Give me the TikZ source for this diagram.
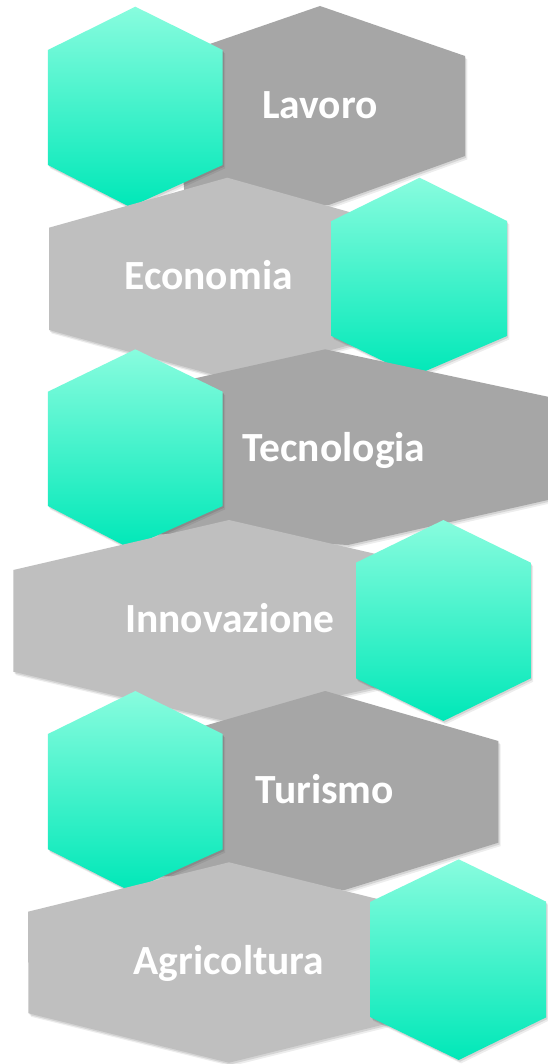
\documentclass[tikz,border=0pt]{standalone}
\usepackage{fontspec}
\setmainfont{Carlito}
\definecolor{dgray}{HTML}{A6A6A6}
\definecolor{lgray}{HTML}{BFBFBF}
\definecolor{gtop}{HTML}{88FCDE}
\definecolor{gmid}{HTML}{55F4CF}
\definecolor{gbot}{HTML}{00E8B8}
\tikzset{
  shd/.style={
    preaction={fill=black, opacity=0.10, transform canvas={xshift=1.2pt, yshift=-1.8pt}},
    preaction={fill=black, opacity=0.07, transform canvas={xshift=2.4pt, yshift=-3.4pt}}},
  darkhex/.style={shd, fill=dgray},
  lighthex/.style={shd, fill=lgray},
  greenhex/.style={shd, top color=gtop, middle color=gmid, bottom color=gbot},
  lbl/.style={anchor=base, text=white, inner sep=0pt,
    font=\fontsize{41.5}{41.5}\selectfont\bfseries}
}
\begin{document}
\begin{tikzpicture}[x=1pt, y=-1pt]
\clip (0,0) rectangle (548,1064);
\fill[white] (0,0) rectangle (548,1064);
% Row 1
\path[darkhex] (320,6) -- (465,56) -- (465,156) -- (328.7,205) -- (185,203) -- (175,56) -- cycle;
\path[greenhex] (135.3,6.7) -- (222.7,50) -- (222.7,165) -- (130,207) -- (47.9,165) -- (47.9,50) -- cycle;
% Row 2
\path[lighthex] (227.3,177.7) -- (405,227.7) -- (405,330) -- (227,378.3) -- (49,330) -- (49,227.7) -- cycle;
\path[greenhex] (419.6,177.7) -- (507,221) -- (507,336) -- (414,376) -- (331.5,336) -- (331.5,221) -- cycle;
% Row 3
\path[darkhex] (325.2,349.3) -- (560,399.3) -- (560,497.3) -- (347.9,545) -- (100,530) -- (100,399.5) -- cycle;
\path[greenhex] (135.3,349.3) -- (222.7,391.7) -- (222.7,506) -- (129,548) -- (47.9,506) -- (47.9,391.7) -- cycle;
% Row 4
\path[lighthex] (229,520) -- (445,570) -- (445,672) -- (225,721) -- (13.3,671.7) -- (13.3,570) -- cycle;
\path[greenhex] (443.4,520) -- (530.8,562.7) -- (530.8,678.3) -- (443.4,721) -- (356,678.3) -- (356,562.7) -- cycle;
% Row 5
\path[darkhex] (325.2,691) -- (498.3,741) -- (498.3,842.7) -- (344.4,890) -- (152,875) -- (152,741) -- cycle;
\path[greenhex] (135.3,691) -- (222.7,734) -- (222.7,849.3) -- (130,891) -- (47.9,849.3) -- (47.9,734) -- cycle;
% Row 6
\path[lighthex] (229,862.3) -- (429,911.7) -- (429,1013.3) -- (229,1062.7) -- (28.5,1013.3) -- (28,911.7) -- cycle;
\path[greenhex] (458.7,859.3) -- (546.2,901.7) -- (546.2,1017.3) -- (458.7,1060) -- (370.6,1017.3) -- (370.6,901.7) -- cycle;
% Labels
\node[lbl] (lavoro) at (320,118.5) {Lavoro};
\node[lbl] (economia) at (208.6,290) {Economia};
\node[lbl] (tecnologia) at (334,461.5) {Tecnologia};
\node[lbl] (innovazione) at (230,632.5) {Innovazione};
\node[lbl] (turismo) at (324.8,803.5) {Turismo};
\node[lbl] (agricoltura) at (229,974) {Agricoltura};
\end{tikzpicture}
\end{document}
